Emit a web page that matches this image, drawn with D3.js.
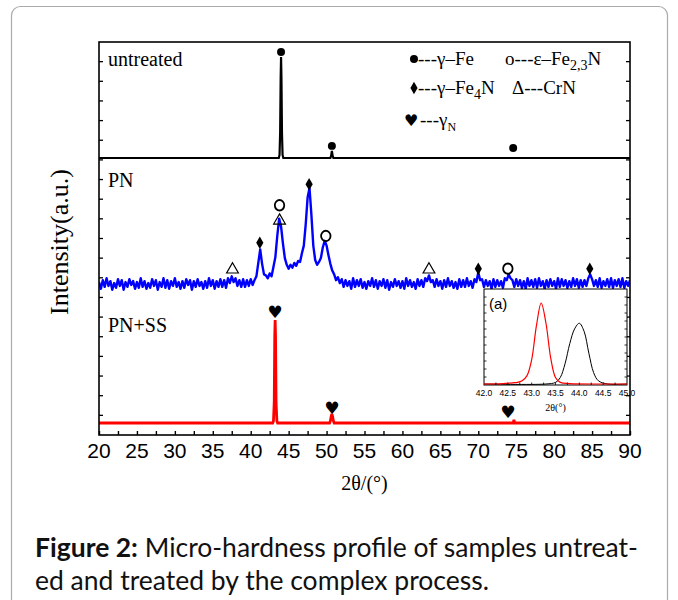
<!DOCTYPE html>
<html lang="en">
<head>
  <meta charset="UTF-8">
  <title>XRD patterns</title>
  <script src="https://d3js.org/d3.v7.min.js"></script>
  <style>
    body { margin: 0; background: #fff; }
    .serif { font-family: "Liberation Serif", "Times New Roman", serif; fill: #000; }
    .sans { font-family: "Liberation Sans", Arial, sans-serif; fill: #000; }
    .caption { font-family: Lato, "Open Sans", sans-serif; font-size: 26.5px; fill: #111; }
  </style>
</head>
<body>
<svg id="chart" width="678" height="600"></svg>
<script>
  // ---- data ----
  const angleTicks = [20, 25, 30, 35, 40, 45, 50, 55, 60, 65, 70, 75, 80, 85, 90];

  // untreated (black)
  const untreatedAngle = [20, 43.7, 43.8, 43.88, 43.95, 44.0, 44.05, 44.12, 44.2, 44.3, 50.5, 50.6, 50.7, 50.8, 50.9, 90];
  const untreatedCounts = [0, 0, 3, 25, 80, 100, 80, 25, 3, 0, 0, 2, 7, 2, 0, 0];

  // PN (blue), sampled every 0.25 deg from 20 to 90
  const pnStart = 20, pnStep = 0.25;
  const pnCounts = [
    2,-5,4,-3, 6,-2,3,-6, 1,-4,5,-2, 4,-6,2,-3, 5,-1,3,-5,
    2,-4,6,-3, 3,-5,1,-4, 5,-2,4,-6, 2,-3,6,-4, 4,-5,3,-2,
    6,-3,2,-5, 3,-4,5,-1, 4,-6,3,-3, 5,-2,2,-5, 3,-4,6,-2,
    4,-5,3,-3, 5,-3,4,-4, 6,1,8,2, 6,-2,4,-3, 5,-3,4,-2,
    5,-1,4,8, 22,36,21,10, 9,6,11,8, 18,28,50,68, 60,42,27,20,
    16,20,17,22, 19,24,23,32, 40,62,90,100, 72,40,25,20, 23,27,38,45,
    40,30,21,14, 10,4,7,1, 5,-3,4,-2, 3,-5,6,-3, 4,-2,5,-4,
    2,-5,3,-2, 6,-3,4,-5, 3,-2,5,-4, 4,-6,2,-3, 5,-2,3,-4,
    3,-5,6,-2, 4,-3,2,-5, 5,-2,4,-3, 6,3,9,2, 4,-3,5,-2,
    3,-5,4,-3, 6,-2,3,-4, 2,-5,5,-3, 4,-3,6,-2, 3,-4,5,2,
    12,4,5,-3, 4,-2,3,-5, 5,-3,4,-2, 3,-4,6,4, 10,6,4,-3,
    5,-2,4,-4, 3,-5,6,-2, 4,-3,5,-4, 6,-2,3,-5, 4,-3,5,-2,
    3,-5,6,-3, 5,-2,4,-4, 3,-3,6,-2, 5,-4,4,-3, 4,-2,6,10,
    5,-2,4,-3, 6,-4,3,-2, 5,-3,6,-4, 4,-2,5,-3, 6,-4,3,-2,
    4
  ];

  // PN+SS (red)
  const ssAngle = [20, 42.9, 43.0, 43.1, 43.17, 43.22, 43.27, 43.34, 43.45, 43.55, 50.4, 50.5, 50.6, 50.7, 50.8, 50.9, 51.0, 74.6, 74.7, 74.8, 90];
  const ssCounts = [0, 0, 2, 20, 85, 100, 85, 20, 2, 0, 0, 2, 6, 9, 6, 2, 0, 0, 3, 0, 0];

  // phase marks: [angle, level]
  const feMarks = [[44.0, 105], [50.7, 12], [74.6, 10]];
  const fe4nMarks = [[41.2, 43], [47.7, 104], [70.0, 16], [84.7, 16]];
  const eFeNMarks = [[43.8, 82], [49.9, 50], [73.9, 16]];
  const crnMarks = [[37.6, 15], [43.8, 66], [63.5, 15]];
  const gnMarks = [[43.2, 108], [50.7, 15], [73.9, 11]];

  // inset (a)
  const insetTicks = [42.0, 42.5, 43.0, 43.5, 44.0, 44.5, 45.0];
  const insetSSAngle = [42.0, 42.4, 42.6, 42.7, 42.8, 42.9, 43.0, 43.1, 43.2, 43.3, 43.4, 43.5, 43.6, 43.8, 44.5, 45.0];
  const insetSSCounts = [0, 0.5, 1.5, 2, 4, 10, 30, 72, 100, 75, 32, 8, 2, 0.5, 0, 0];
  const insetUntreatedAngle = [42.0, 43.3, 43.5, 43.6, 43.7, 43.8, 43.9, 44.0, 44.1, 44.2, 44.3, 44.4, 44.6, 45.0];
  const insetUntreatedCounts = [0, 0, 2, 8, 25, 50, 68, 75, 65, 38, 14, 4, 0, 0];

  const svg = d3.select("#chart");

  // card border
  svg.append("rect")
    .attr("x", 11.5).attr("y", 6.5)
    .attr("width", 656).attr("height", 640)
    .attr("rx", 9)
    .attr("fill", "none").attr("stroke", "#aaa").attr("stroke-width", 1.2);

  const fLeft = 99, fRight = 630, fTop = 42, fBottom = 435;

  const x = d3.scaleLinear().domain([20, 90]).range([fLeft, fRight]);
  const yUn = d3.scaleLinear().domain([0, 100]).range([158, 57]);
  const yPN = d3.scaleLinear().domain([0, 100]).range([284, 188]);
  const ySS = d3.scaleLinear().domain([0, 100]).range([423, 320]);

  svg.append("clipPath").attr("id", "frameClip")
    .append("rect").attr("x", fLeft).attr("y", fTop).attr("width", fRight - fLeft).attr("height", fBottom - fTop);

  const plot = svg.append("g").attr("clip-path", "url(#frameClip)");

  const lineUn = d3.line().x((d, i) => x(untreatedAngle[i])).y(d => yUn(d));
  const linePN = d3.line().x((d, i) => x(pnStart + i * pnStep)).y(d => yPN(d));
  const lineSS = d3.line().x((d, i) => x(ssAngle[i])).y(d => ySS(d));

  plot.append("path").attr("d", linePN(pnCounts))
    .attr("fill", "none").attr("stroke", "#0000ff").attr("stroke-width", 2.4).attr("stroke-linejoin", "round");
  plot.append("path").attr("d", lineUn(untreatedCounts))
    .attr("fill", "none").attr("stroke", "#000").attr("stroke-width", 2.2);
  plot.append("path").attr("d", lineSS(ssCounts))
    .attr("fill", "none").attr("stroke", "#ff0000").attr("stroke-width", 2.8);

  // frame
  svg.append("rect")
    .attr("x", fLeft).attr("y", fTop).attr("width", fRight - fLeft).attr("height", fBottom - fTop)
    .attr("fill", "none").attr("stroke", "#000").attr("stroke-width", 1.6);

  // bottom axis, ticks inward
  const xAxis = d3.axisBottom(x).tickValues(d3.range(20, 90.1, 2.5)).tickSize(-4).tickFormat("");
  svg.append("g").attr("transform", "translate(0," + fBottom + ")").call(xAxis)
    .call(g => g.select(".domain").remove())
    .call(g => g.selectAll("line").attr("stroke", "#000").attr("stroke-width", 1.4));

  svg.append("g").selectAll("text").data(angleTicks).enter().append("text")
    .attr("class", "sans")
    .attr("x", d => x(d)).attr("y", 458)
    .attr("text-anchor", "middle")
    .style("font-size", "21px")
    .text(d => d);

  // side ticks
  const yFrame = d3.scaleLinear().domain([0, 20]).range([fBottom, fTop]);
  const sideTicks = d3.range(1, 20);
  svg.append("g").selectAll("line").data(sideTicks).enter().append("line")
    .attr("x1", fLeft).attr("x2", fLeft + 4)
    .attr("y1", d => yFrame(d)).attr("y2", d => yFrame(d))
    .attr("stroke", "#000").attr("stroke-width", 1.3);
  svg.append("g").selectAll("line").data(sideTicks).enter().append("line")
    .attr("x1", fRight).attr("x2", fRight - 4)
    .attr("y1", d => yFrame(d)).attr("y2", d => yFrame(d))
    .attr("stroke", "#000").attr("stroke-width", 1.3);

  // axis titles
  svg.append("text").attr("class", "serif")
    .attr("x", x(55)).attr("y", 490)
    .attr("text-anchor", "middle")
    .style("font-size", "20px")
    .text("2θ/(°)");

  svg.append("text").attr("class", "serif")
    .attr("transform", "translate(68,242) rotate(-90)")
    .attr("text-anchor", "middle")
    .style("font-size", "26px")
    .text("Intensity(a.u.)");

  // panel names
  const panelNames = [["untreated", 66], ["PN", 187], ["PN+SS", 332]];
  svg.append("g").selectAll("text").data(panelNames).enter().append("text")
    .attr("class", "serif")
    .attr("x", 108).attr("y", d => d[1])
    .style("font-size", "20px")
    .text(d => d[0]);

  // phase markers
  const circleSym = d3.symbol().type(d3.symbolCircle).size(50);
  const diamondSym = d3.symbol().type(d3.symbolDiamond).size(45);
  const ringSym = d3.symbol().type(d3.symbolCircle).size(70);
  const triSym = d3.symbol().type(d3.symbolTriangle).size(60);

  svg.append("g").selectAll("path").data(feMarks).enter().append("path")
    .attr("d", circleSym)
    .attr("transform", d => "translate(" + x(d[0]) + "," + yUn(d[1]) + ")");

  svg.append("g").selectAll("path").data(fe4nMarks).enter().append("path")
    .attr("d", diamondSym)
    .attr("transform", d => "translate(" + x(d[0]) + "," + yPN(d[1]) + ")");

  svg.append("g").selectAll("path").data(eFeNMarks).enter().append("path")
    .attr("d", ringSym)
    .attr("transform", d => "translate(" + x(d[0]) + "," + yPN(d[1]) + ") scale(1,1.1)")
    .attr("fill", "none").attr("stroke", "#000").attr("stroke-width", 1.8);

  svg.append("g").selectAll("path").data(crnMarks).enter().append("path")
    .attr("d", triSym)
    .attr("transform", d => "translate(" + x(d[0]) + "," + yPN(d[1]) + ")")
    .attr("fill", "none").attr("stroke", "#000").attr("stroke-width", 1.2);

  svg.append("g").selectAll("text").data(gnMarks).enter().append("text")
    .attr("x", d => x(d[0])).attr("y", d => ySS(d[1]) + 6)
    .attr("text-anchor", "middle")
    .style("font-family", "DejaVu Sans")
    .style("font-size", "17px")
    .text("♥");

  // legend
  const legend = svg.append("g").attr("class", "serif").style("font-size", "19px");
  legend.append("path").attr("d", circleSym).attr("transform", "translate(414,59)");
  legend.append("text").attr("x", 418).attr("y", 65).text("---γ–Fe");
  const l2 = legend.append("text").attr("x", 505).attr("y", 65);
  l2.append("tspan").text("o---ε–Fe");
  l2.append("tspan").attr("dy", 5).style("font-size", "14px").text("2,3");
  l2.append("tspan").attr("dy", -5).text("N");
  legend.append("path").attr("d", diamondSym).attr("transform", "translate(414,88)");
  const l3 = legend.append("text").attr("x", 418).attr("y", 94);
  l3.append("tspan").text("---γ–Fe");
  l3.append("tspan").attr("dy", 5).style("font-size", "14px").text("4");
  l3.append("tspan").attr("dy", -5).text("N");
  legend.append("text").attr("x", 512).attr("y", 94).text("Δ---CrN");
  legend.append("text").attr("x", 404).attr("y", 126)
    .style("font-family", "DejaVu Sans").style("font-size", "16px").text("♥");
  const l5 = legend.append("text").attr("x", 420).attr("y", 126);
  l5.append("tspan").text("---γ");
  l5.append("tspan").attr("dy", 5).style("font-size", "12px").text("N");

  // inset (a)
  const inL = 484, inR = 627, inT = 289, inB = 385;
  const xIn = d3.scaleLinear().domain([42, 45]).range([inL, inR]);
  const yIn = d3.scaleLinear().domain([0, 100]).range([384, 303]);
  const inset = svg.append("g");
  inset.append("rect").attr("x", inL).attr("y", inT).attr("width", inR - inL).attr("height", inB - inT)
    .attr("fill", "#fff").attr("stroke", "#000").attr("stroke-width", 1);

  const lineInUn = d3.line().x((d, i) => xIn(insetUntreatedAngle[i])).y(d => yIn(d)).curve(d3.curveCatmullRom);
  const lineInSS = d3.line().x((d, i) => xIn(insetSSAngle[i])).y(d => yIn(d)).curve(d3.curveCatmullRom);
  inset.append("path").attr("d", lineInUn(insetUntreatedCounts))
    .attr("fill", "none").attr("stroke", "#000").attr("stroke-width", 1);
  inset.append("path").attr("d", lineInSS(insetSSCounts))
    .attr("fill", "none").attr("stroke", "#ff0000").attr("stroke-width", 1.2);

  const inTicksY = d3.scaleLinear().domain([0, 12]).range([inB, inT]);
  inset.selectAll(".lt").data(d3.range(1, 12)).enter().append("line")
    .attr("x1", inL).attr("x2", inL + 2.5)
    .attr("y1", d => inTicksY(d)).attr("y2", d => inTicksY(d))
    .attr("stroke", "#000").attr("stroke-width", 0.8);
  inset.selectAll(".rt").data(d3.range(1, 12)).enter().append("line")
    .attr("x1", inR).attr("x2", inR - 2.5)
    .attr("y1", d => inTicksY(d)).attr("y2", d => inTicksY(d))
    .attr("stroke", "#000").attr("stroke-width", 0.8);
  inset.selectAll(".bt").data(d3.range(42.25, 45, 0.25)).enter().append("line")
    .attr("x1", d => xIn(d)).attr("x2", d => xIn(d))
    .attr("y1", inB).attr("y2", inB - 2.5)
    .attr("stroke", "#000").attr("stroke-width", 0.8);
  inset.selectAll(".il").data(insetTicks).enter().append("text")
    .attr("class", "sans")
    .attr("x", d => xIn(d)).attr("y", 396)
    .attr("text-anchor", "middle")
    .style("font-size", "8.5px")
    .text(d => d.toFixed(1));
  inset.append("text").attr("class", "serif")
    .attr("x", xIn(43.5)).attr("y", 411)
    .attr("text-anchor", "middle")
    .style("font-size", "10px")
    .text("2θ(°)");
  inset.append("text").attr("class", "sans")
    .attr("x", 489).attr("y", 309)
    .style("font-size", "15px")
    .text("(a)");

  // caption
  const cap = svg.append("text").attr("class", "caption").attr("x", 35).attr("y", 557);
  cap.append("tspan").style("font-weight", "bold").text("Figure 2:");
  cap.append("tspan").text(" Micro-hardness profile of samples untreat-");
  svg.append("text").attr("class", "caption").attr("x", 35).attr("y", 590)
    .text("ed and treated by the complex process.");
</script>
</body>
</html>
